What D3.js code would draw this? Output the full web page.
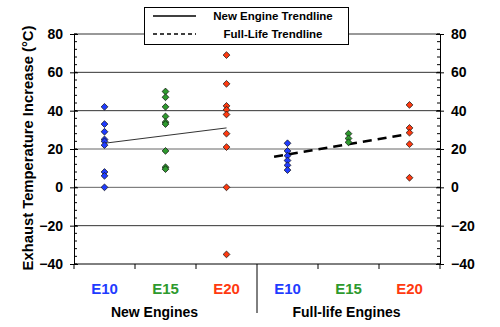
<!DOCTYPE html>
<html><head><meta charset="utf-8">
<script src="https://cdn.jsdelivr.net/npm/d3@7"></script>
<style>body{margin:0;background:#fff}svg{display:block;font-family:"Liberation Sans",Arial,sans-serif}</style>
</head><body><svg id="c" width="500" height="327"></svg>
<script>
// ---- data ----
const categories = ["E10", "E15", "E20", "E10", "E15", "E20"];
const catColors = ["#1f3cff", "#2e9a2e", "#ff3a10", "#1f3cff", "#2e9a2e", "#ff3a10"];
const groups = ["New Engines", "Full-life Engines"];
const newE10 = [42, 33, 29, 25, 24, 22, 8, 6, 0];
const newE15 = [50, 47, 42, 37, 34, 33, 19, 10.5, 9.5];
const newE20 = [69, 54, 42.5, 40.5, 38, 28, 21, 0, -35];
const flE10 = [23, 19, 16.5, 14, 11.5, 9];
const flE15 = [28, 25.5, 23.5];
const flE20 = [43, 31, 28.5, 22.5, 5];
const seriesValues = [newE10, newE15, newE20, flE10, flE15, flE20];
const newTrend = {x: [0, 2], y: [23, 31]};
const flTrend = {x: [2.78, 4.95], y: [16, 27.6]};
const yTicks = [-40, -20, 0, 20, 40, 60, 80];
const yMinorTicks = d3.range(-40, 81, 4);
const legendLabels = ["New Engine Trendline", "Full-Life Trendline"];
const yTitle = "Exhaust Temperature Increase (°C)";

// ---- layout ----
const L = 74, R = 440, T = 34, B = 264;
const svg = d3.select("#c");
const x = d3.scaleBand().domain(d3.range(categories.length)).range([L, R]);
const xi = d3.scaleLinear().domain([-0.5, 5.5]).range([L, R]);
const y = d3.scaleLinear().domain([-40, 80]).range([B, T]);

// gridlines
svg.append("g").selectAll("line").data(yTicks.filter(v => v > -40)).join("line")
  .attr("x1", L).attr("x2", R).attr("y1", d => y(d)).attr("y2", d => y(d))
  .attr("stroke", d => (d === 0 || d === 20) ? "#666" : "#333").attr("stroke-width", 1);

// left axis
const la = svg.append("g").attr("transform", `translate(${L},0)`);
la.call(d3.axisLeft(y).tickValues(yTicks).tickSize(4).tickPadding(7));
la.selectAll(".tick line").attr("x2", -4).attr("x1", 4);
la.append("g").selectAll("line").data(yMinorTicks).join("line")
  .attr("x1", 0).attr("x2", 3).attr("y1", d => y(d)).attr("y2", d => y(d)).attr("stroke", "#000");
// right axis
const ra = svg.append("g").attr("transform", `translate(${R},0)`);
ra.call(d3.axisRight(y).tickValues(yTicks).tickSize(4).tickPadding(7));
ra.selectAll(".tick line").attr("x2", 4).attr("x1", -4);
ra.append("g").selectAll("line").data(yMinorTicks).join("line")
  .attr("x1", 0).attr("x2", -3).attr("y1", d => y(d)).attr("y2", d => y(d)).attr("stroke", "#000");
[la, ra].forEach(a => {
  a.select(".domain").attr("stroke", "#000");
  a.selectAll("text").attr("font-size", 14).attr("font-weight", "bold").attr("fill", "#000")
    .attr("font-family", "'Liberation Sans',Arial,sans-serif");
});

// bottom axis
const ba = svg.append("g").attr("transform", `translate(0,${B})`);
ba.append("line").attr("x1", L).attr("x2", R).attr("stroke", "#000");
ba.selectAll("line.t").data(d3.range(categories.length + 1)).join("line").attr("class", "t")
  .attr("x1", d => xi(d - 0.5)).attr("x2", d => xi(d - 0.5))
  .attr("y1", 0).attr("y2", d => d === 3 ? 49 : 5).attr("stroke", "#000");
ba.selectAll("text.c").data(categories).join("text").attr("class", "c")
  .attr("x", (d, i) => x(i) + x.bandwidth() / 2).attr("y", 30)
  .attr("text-anchor", "middle").attr("font-size", 15).attr("font-weight", "bold")
  .attr("fill", (d, i) => catColors[i]).text(d => d);
ba.selectAll("text.g").data(groups).join("text").attr("class", "g")
  .attr("x", (d, i) => xi(1 + i * 3) + (i === 0 ? -11 : -2)).attr("y", 53)
  .attr("text-anchor", "middle").attr("font-size", 14).attr("font-weight", "bold")
  .attr("fill", "#000").text(d => d);

// y title
svg.append("text").attr("transform", `translate(33,${(T + B) / 2 - 1}) rotate(-90)`)
  .attr("text-anchor", "middle").attr("font-size", 14.8).attr("font-weight", "bold").text(yTitle);

// trendlines
const line = d3.line().x(d => xi(d[0])).y(d => y(d[1]));
svg.append("path").datum(newTrend.x.map((v, i) => [v, newTrend.y[i]])).attr("d", line)
  .attr("stroke", "#333").attr("stroke-width", 1).attr("fill", "none");
svg.append("path").datum(flTrend.x.map((v, i) => [v, flTrend.y[i]])).attr("d", line)
  .attr("stroke", "#000").attr("stroke-width", 2.5).attr("stroke-dasharray", "9,6").attr("fill", "none");

// points
const sym = d3.symbol().type(d3.symbolSquare).size(23);
seriesValues.forEach((vals, i) => {
  svg.append("g").selectAll("path").data(vals).join("path")
    .attr("d", sym)
    .attr("transform", d => `translate(${x(i) + x.bandwidth() / 2},${y(d)}) rotate(45)`)
    .attr("fill", catColors[i]).attr("stroke", "#111").attr("stroke-width", 0.7);
});

// legend
const lg = svg.append("g");
lg.append("rect").attr("x", 144.5).attr("y", 7.5).attr("width", 204).attr("height", 37)
  .attr("fill", "#fff").attr("stroke", "#000");
legendLabels.forEach((t, i) => {
  const yy = 16 + i * 18;
  lg.append("line").attr("x1", 153).attr("x2", 196).attr("y1", yy).attr("y2", yy)
    .attr("stroke", "#000").attr("stroke-width", 1.5).attr("stroke-dasharray", i ? "4,3" : null);
  lg.append("text").attr("x", 273).attr("y", yy + 4).attr("text-anchor", "middle")
    .attr("font-size", 11.5).attr("font-weight", "bold").text(t);
});
</script></body></html>
